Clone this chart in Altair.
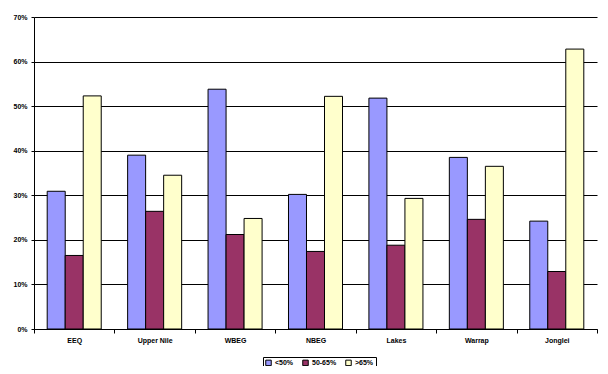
import altair as alt
import pandas as pd

regions = ["EEQ", "Upper Nile", "WBEG", "NBEG", "Lakes", "Warrap", "Jonglei"]
series = ["<50%", "50-65%", ">65%"]
lt50 = [30.9, 39.0, 53.8, 30.2, 51.8, 38.5, 24.2]
mid = [16.5, 26.4, 21.2, 17.4, 18.8, 24.6, 12.9]
gt65 = [52.3, 34.5, 24.8, 52.2, 29.3, 36.5, 62.8]
colors = ["#9999FF", "#993366", "#FFFFCC"]
yticks = [0, 0.1, 0.2, 0.3, 0.4, 0.5, 0.6, 0.7]

rows = []
for i, r in enumerate(regions):
    for s, vals in zip(series, [lt50, mid, gt65]):
        rows.append({"region": r, "group": s, "value": vals[i] / 100})
df = pd.DataFrame(rows)

font = "Liberation Sans"

chart = alt.Chart(df).mark_bar(stroke="black", strokeWidth=1).encode(
    x=alt.X(
        "region:N", sort=regions, title=None,
        scale=alt.Scale(paddingInner=0, paddingOuter=0),
        axis=alt.Axis(labelAngle=0, tickBand="extent", grid=False,
                      domainColor="black", tickColor="black", tickSize=4,
                      labelFont=font, labelFontSize=7, labelFontWeight="bold",
                      labelColor="black", labelPadding=3),
    ),
    xOffset=alt.XOffset("group:N", sort=series,
                        scale=alt.Scale(paddingInner=0, paddingOuter=0.733)),
    y=alt.Y(
        "value:Q", title=None,
        scale=alt.Scale(domain=[0, 0.7], nice=False),
        axis=alt.Axis(format=".0%", values=yticks, grid=True, gridColor="black",
                      gridOpacity=1, gridWidth=1, domainColor="black",
                      tickColor="black", tickSize=3, labelFont=font,
                      labelFontSize=7, labelFontWeight="bold", labelColor="black",
                      labelPadding=4),
    ),
    fill=alt.Fill(
        "group:N", sort=series,
        scale=alt.Scale(domain=series, range=colors),
        legend=alt.Legend(orient="none", legendX=229, legendY=340,
                          direction="horizontal", title=None,
                          strokeColor="black", fillColor="white", padding=2,
                          symbolType="square", symbolSize=30,
                          symbolStrokeColor="black", symbolStrokeWidth=1,
                          labelFont=font, labelFontSize=7, labelFontWeight="bold",
                          labelColor="black", columnPadding=6, labelOffset=3),
    ),
).properties(
    width=563, height=312,
    autosize=alt.AutoSizeParams(type="none"),
    padding={"left": 26, "top": 9, "right": 3, "bottom": 37},
).configure_view(stroke=None)

chart.save("out.html", embed_options={"renderer": "svg", "actions": False})
